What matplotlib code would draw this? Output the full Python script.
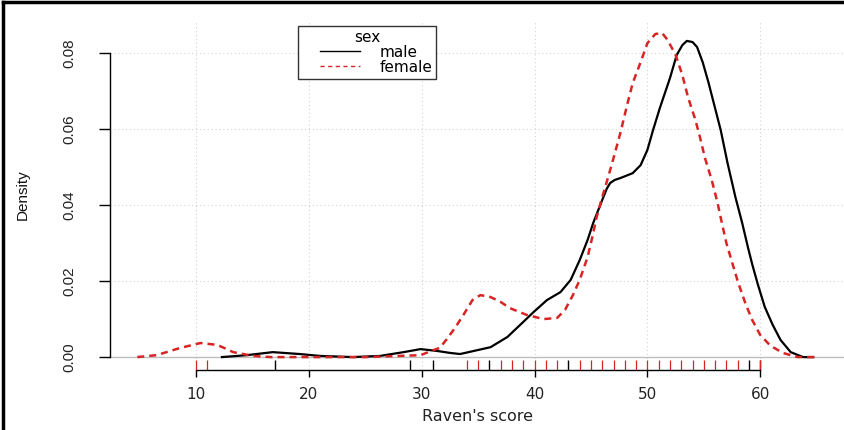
import numpy as np
import matplotlib.pyplot as plt
from matplotlib.lines import Line2D
from matplotlib.legend_handler import HandlerLine2D

# density curves (Raven's score, density)
male_x = [12.3, 14.5, 16.8, 19.2, 21.0, 23.9, 26.3, 28.4, 29.9, 31.4, 32.5, 33.4,
          36.1, 37.6, 38.7, 39.9, 41.1, 42.3, 43.2, 44.0, 44.7, 45.2, 46.1, 46.4, 46.7,
          47.1, 47.6, 48.7, 49.4, 50.0, 50.5, 51.1, 52.0, 52.6, 53.1, 53.5, 54.0, 54.4,
          54.9, 55.4, 56.5, 57.1, 57.8, 58.4, 58.9, 59.3, 59.8, 60.4, 61.1, 61.8,
          62.7, 63.8, 64.7]
male_y = [0.0, 0.0005, 0.0013, 0.0008, 0.0003, 0.0, 0.0003, 0.0013, 0.0021, 0.0016, 0.0011, 0.0008,
          0.0026, 0.0053, 0.0084, 0.0118, 0.0150, 0.0171, 0.0203, 0.0255, 0.0308, 0.0353, 0.0421, 0.0443, 0.0458,
          0.0466, 0.0471, 0.0484, 0.0505, 0.0545, 0.0597, 0.0655, 0.0734, 0.0795, 0.0821, 0.0832, 0.0829, 0.0816,
          0.0776, 0.0724, 0.0597, 0.0511, 0.0421, 0.0353, 0.0290, 0.0243, 0.0190, 0.0132, 0.0085, 0.0045,
          0.0013, 0.0, 0.0]

female_x = [4.8, 6.5, 8.6, 10.4, 11.9, 13.3, 15.1, 16.6, 20.0, 25.0, 29.9, 31.0,
            31.6, 32.3, 33.0, 33.7, 34.5, 35.2, 36.1, 37.0, 37.8, 39.3, 40.8, 42.0,
            42.7, 43.4, 44.0, 44.7, 45.1, 45.5, 46.0, 46.4, 46.9, 47.6, 48.2,
            48.7, 49.4, 50.0, 50.7, 51.3, 51.8, 52.5, 53.1, 53.6, 54.2, 54.6, 55.1,
            55.7, 56.2, 56.6, 57.0, 57.5, 58.0, 58.7, 59.3, 60.0, 60.9, 62.0, 63.3,
            65.2]
female_y = [0.0, 0.0005, 0.0024, 0.0037, 0.0032, 0.0013, 0.0003, 0.0, 0.0, 0.0, 0.0005, 0.0018,
            0.0024, 0.0050, 0.0079, 0.0111, 0.0150, 0.0163, 0.0158, 0.0145, 0.0129, 0.0111, 0.0100, 0.0103,
            0.0124, 0.0163, 0.0203, 0.0263, 0.0313, 0.0368, 0.0421, 0.0461, 0.0513, 0.0589, 0.0663,
            0.0721, 0.0776, 0.0826, 0.0850, 0.0853, 0.0834, 0.0795, 0.0742, 0.0684, 0.0629, 0.0586, 0.0524,
            0.0466, 0.0408, 0.0353, 0.0300, 0.0250, 0.0200, 0.0140, 0.0097, 0.0058, 0.0030, 0.0011, 0.0,
            0.0]

# rug values
male_rug = [17, 29, 31, 36, 43, 59, 60]
female_rug = [10, 11, 34, 35, 37, 38, 39, 40, 41, 42, 44, 45, 46, 47, 48, 49, 50,
              51, 52, 53, 54, 55, 56, 57, 58, 60]

x_ticks = [10, 20, 30, 40, 50, 60]
y_ticks = [0.00, 0.02, 0.04, 0.06, 0.08]

red = '#d92424'

fig = plt.figure(figsize=(8.45, 4.3), dpi=100)
ax = fig.add_axes([110 / 845, 60 / 430, 736 / 845, 350 / 430])
ax.set_xlim(2.38, 67.6)
ax.set_ylim(-0.0034, 0.0887)

# grid and zero line
for xv in x_ticks:
    ax.axvline(xv, color='#d3d3d3', lw=0.8, ls=(0, (1, 2.5)), zorder=0)
for yv in y_ticks[1:]:
    ax.axhline(yv, color='#d3d3d3', lw=0.8, ls=(0, (1, 2.5)), zorder=0)
ax.axhline(0, color='#bebebe', lw=1.0, zorder=1)

ax.plot(male_x, male_y, color='black', lw=1.6, zorder=3)
ax.plot(female_x, female_y, color=red, lw=1.8, dashes=(2.8, 2.0), zorder=3)

# rug marks
trans = ax.get_xaxis_transform()
ax.vlines(male_rug, 0, 0.03, transform=trans, color='black', lw=1.0, zorder=2)
ax.vlines(female_rug, 0, 0.03, transform=trans, color=red, lw=0.9, zorder=2)

for s in ['top', 'right']:
    ax.spines[s].set_visible(False)
ax.spines['bottom'].set_bounds(10, 60)
ax.spines['left'].set_bounds(0, 0.08)
ax.spines['bottom'].set_linewidth(1.0)
ax.spines['left'].set_linewidth(1.0)

ax.set_xticks(x_ticks)
ax.set_xticklabels([str(v) for v in x_ticks], family='DejaVu Sans', fontsize=11, color='#222222')
ax.set_yticks(y_ticks)
ax.set_yticklabels(['%.2f' % v for v in y_ticks], rotation=90, va='center',
                   family=['Liberation Sans Narrow', 'Liberation Sans'], fontsize=11, color='#222222')
ax.tick_params(axis='x', length=5, width=1.0, pad=7)
ax.tick_params(axis='y', length=8, width=1.0, pad=16)

ax.set_xlabel("Raven's score", family='DejaVu Sans', fontsize=11.5, color='#222222', labelpad=5)
ax.set_ylabel('Density', family=['Liberation Sans Narrow', 'Liberation Sans'], fontsize=11,
              color='#111111', labelpad=24)

handles = [Line2D([0], [0], color='black', lw=1.0),
           Line2D([0], [0], color=red, lw=1.0, dashes=(3, 2.5))]
leg = ax.legend(handles, ['male', 'female'], title='sex', loc='upper left',
                bbox_to_anchor=((298 - 110) / 736, (370 - 26) / 350), borderaxespad=0,
                fancybox=False, edgecolor='#333333', framealpha=1,
                handlelength=3.8, handletextpad=1.3, borderpad=0.25,
                labelspacing=0.0, prop={'family': 'DejaVu Sans', 'size': 11},
                title_fontproperties={'family': 'DejaVu Sans', 'size': 11},
                handler_map={Line2D: HandlerLine2D(xpad=1.2)})
leg.get_frame().set_linewidth(1.0)

# outer frame (top and left edges)
fig.add_artist(Line2D([0.004, 0.004], [0, 0.995], transform=fig.transFigure, color='black', lw=2.5))
fig.add_artist(Line2D([0.004, 1.0], [0.995, 0.995], transform=fig.transFigure, color='black', lw=2.5))

fig.savefig('out.png', dpi=100)
